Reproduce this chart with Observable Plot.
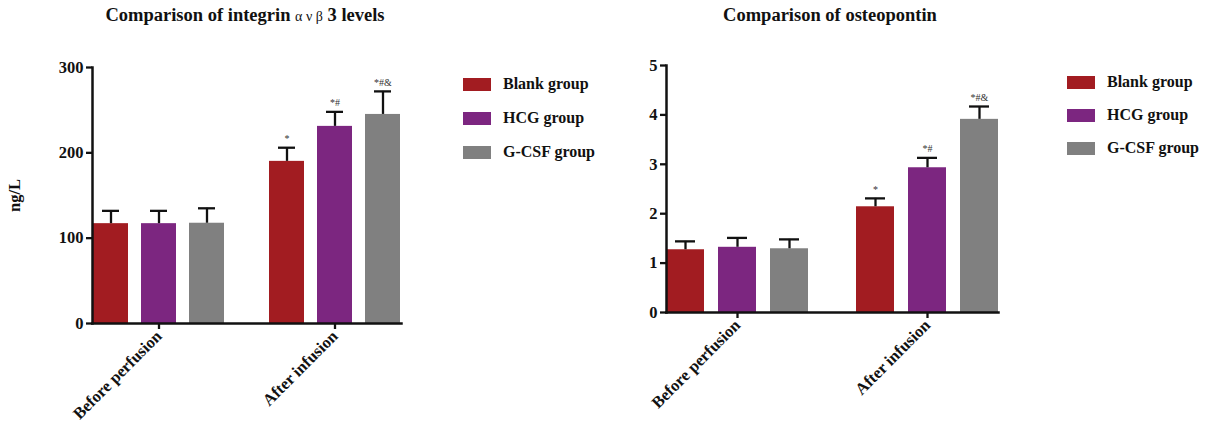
<!DOCTYPE html>
<html><head><meta charset="utf-8">
<script src="https://cdn.jsdelivr.net/npm/d3@7"></script>
<script src="https://cdn.jsdelivr.net/npm/@observablehq/plot@0.6"></script>
<style>
body{margin:0;width:1213px;height:435px;position:relative;background:#fff;font-family:"Liberation Serif","Times New Roman",serif;font-weight:bold;color:#111;overflow:hidden}
.panel{position:absolute;top:0}
.title{position:absolute;top:4px;font-size:18.5px;line-height:22px;white-space:nowrap;transform:translateX(-50%)}
.title .gr{font-weight:normal;font-size:14px}
.legend{position:absolute;font-size:16px}
.legend .row{position:absolute;display:flex;align-items:center;white-space:nowrap;height:20px}
.sw{width:28px;height:13px;margin-right:12px}
</style></head><body>
<script>
// ---- data ----
const periods = ["Before perfusion", "After infusion"];
const groups = ["Blank group", "HCG group", "G-CSF group"];
const colors = ["#a21c21", "#7c2680", "#808080"];

const integrinBefore = [117, 117, 117.5];
const integrinBeforeSd = [15, 15, 17.5];
const integrinAfter = [190, 231, 245];
const integrinAfterSd = [16, 17, 27];
const integrinAfterMarks = ["*", "*#", "*#&"];
const integrinTicks = [0, 100, 200, 300];

const opnBefore = [1.27, 1.32, 1.29];
const opnBeforeSd = [0.17, 0.19, 0.19];
const opnAfter = [2.14, 2.93, 3.91];
const opnAfterSd = [0.17, 0.20, 0.26];
const opnAfterMarks = ["*", "*#", "*#&"];
const opnTicks = [0, 1, 2, 3, 4, 5];

function rows(before, beforeSd, after, afterSd, marks) {
  const out = [];
  groups.forEach((g, i) => out.push({period: periods[0], group: g, mean: before[i], sd: beforeSd[i], mark: ""}));
  groups.forEach((g, i) => out.push({period: periods[1], group: g, mean: after[i], sd: afterSd[i], mark: marks[i]}));
  return out;
}

function chart({data, yDomain, yTicks, yLabel, width, height, marginLeft, marginRight, marginTop, marginBottom, fxInner, fxOuter}) {
  return Plot.plot({
    width, height, marginLeft, marginRight, marginTop, marginBottom,
    style: {fontFamily: '"Liberation Serif","Times New Roman",serif', fontSize: "16.5px", fontWeight: "bold", color: "#111", background: "transparent", overflow: "visible"},
    fx: {domain: periods, paddingInner: fxInner, paddingOuter: fxOuter, label: null},
    x: {domain: groups, paddingInner: 0.27, paddingOuter: 0, axis: null},
    y: {domain: yDomain, axis: null},
    color: {domain: groups, range: colors},
    marks: [
      Plot.barY(data, {fx: "period", x: "group", y: "mean", fill: "group"}),
      Plot.ruleX(data, {fx: "period", x: "group", y1: "mean", y2: d => d.mean + d.sd, stroke: "#111", strokeWidth: 2.3}),
      Plot.tickY(data, {fx: "period", x: "group", y: d => d.mean + d.sd, stroke: "#111", strokeWidth: 2.3, insetLeft: 9, insetRight: 9}),
      Plot.text(data, {fx: "period", x: "group", y: d => d.mean + d.sd, text: "mark", dy: -9, fontSize: 10, fontWeight: "normal", fill: "#333"}),
      Plot.axisY({ticks: yTicks, tickFormat: d => String(d), tickSize: 6, strokeWidth: 2.3, tickPadding: 3, label: yLabel, labelAnchor: "center", labelArrow: "none", labelOffset: 84}),
      Plot.axisFx({anchor: "bottom", tickRotate: -45, tickSize: 6, strokeWidth: 2.3, tickPadding: 4, label: null}),
      Plot.frame({anchor: "left", facet: "super", stroke: "#111", strokeWidth: 2.5}),
      Plot.frame({anchor: "bottom", facet: "super", stroke: "#111", strokeWidth: 2.5})
    ]
  });
}

function place(el, left) {
  const d = document.createElement("div");
  d.className = "panel"; d.style.left = left + "px";
  d.appendChild(el); document.body.appendChild(d);
}
function title(html, cx) {
  const d = document.createElement("div");
  d.className = "title"; d.style.left = cx + "px"; d.innerHTML = html;
  document.body.appendChild(d);
}
function legend(left, tops) {
  const d = document.createElement("div");
  d.className = "legend"; d.style.left = left + "px"; d.style.top = "0px";
  groups.forEach((g, i) => {
    const r = document.createElement("div");
    r.className = "row"; r.style.top = (tops[i] - 10) + "px";
    const s = document.createElement("span"); s.className = "sw"; s.style.background = colors[i];
    const t = document.createElement("span"); t.textContent = g;
    r.appendChild(s); r.appendChild(t); d.appendChild(r);
  });
  document.body.appendChild(d);
}

place(chart({
  data: rows(integrinBefore, integrinBeforeSd, integrinAfter, integrinAfterSd, integrinAfterMarks),
  yDomain: [0, 300], yTicks: integrinTicks, yLabel: "ng/L",
  width: 460, height: 435, marginLeft: 77, marginRight: 43, marginTop: 67, marginBottom: 112,
  fxInner: 0.243, fxOuter: 0.082
}), 0);

place(chart({
  data: rows(opnBefore, opnBeforeSd, opnAfter, opnAfterSd, opnAfterMarks),
  yDomain: [0, 5], yTicks: opnTicks, yLabel: null,
  width: 460, height: 435, marginLeft: 70, marginRight: 26, marginTop: 65, marginBottom: 123,
  fxInner: 0.253, fxOuter: 0.084
}), 580);

title('Comparison of integrin <span class="gr">α ν β</span> 3 levels', 245);
title("Comparison of osteopontin", 830);
legend(463, [84, 118, 152]);
legend(1067, [82, 115, 148]);
</script>
</body></html>
